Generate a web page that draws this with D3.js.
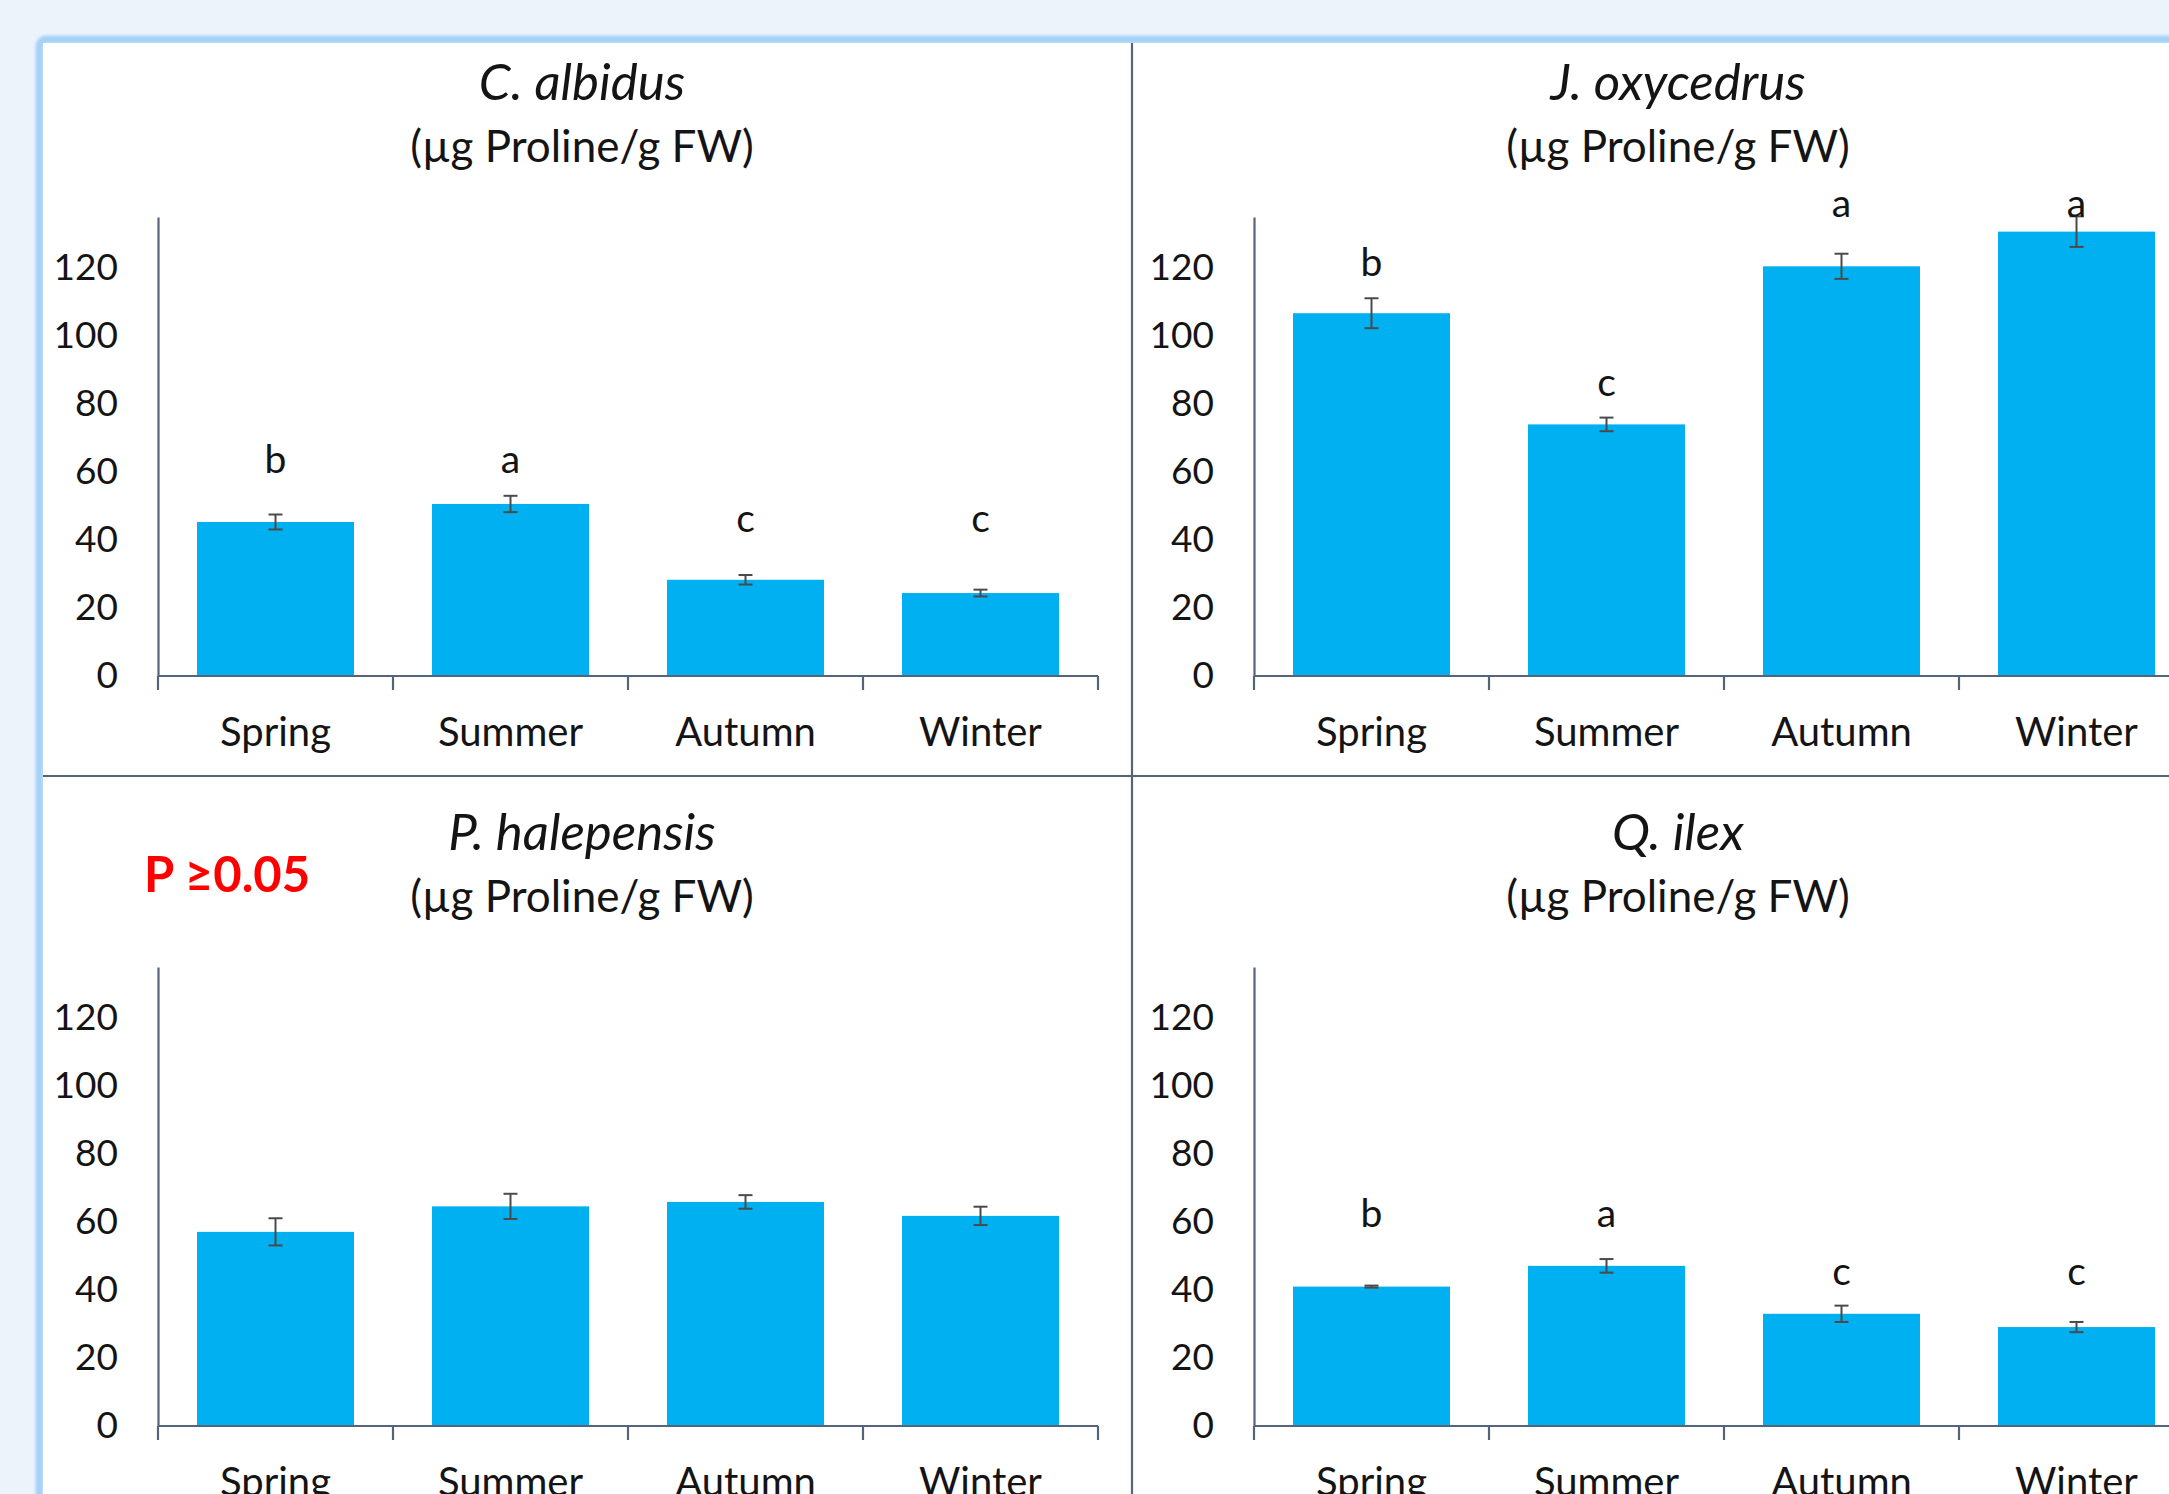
<!DOCTYPE html>
<html>
<head>
<meta charset="utf-8">
<script src="https://cdn.jsdelivr.net/npm/d3@7"></script>
<style>
  html, body { margin: 0; padding: 0; background: #ECF3FB; }
  svg { display: block; }
  text { font-family: Lato, "Open Sans", sans-serif; fill: #141414; }
</style>
</head>
<body>
<svg id="chart" width="2169" height="1494"></svg>
<script>
// Seasonal proline content per species (µg Proline / g FW)
const seasons = ["Spring", "Summer", "Autumn", "Winter"];
const yTicks = [0, 20, 40, 60, 80, 100, 120];
const unitLabel = "(µg Proline/g FW)";

const albidusMean = [45.3, 50.6, 28.3, 24.4];
const albidusErr = [2.2, 2.4, 1.4, 1.0];
const albidusLetters = ["b", "a", "c", "c"];
const albidusLetterAt = [59.8, 59.8, 42.4, 42.4];

const oxycedrusMean = [106.7, 74.0, 120.5, 130.7];
const oxycedrusErr = [4.4, 2.0, 3.7, 4.5];
const oxycedrusLetters = ["b", "c", "a", "a"];
const oxycedrusLetterAt = [117.6, 82.5, 135.0, 135.0];

const halepensisMean = [57.1, 64.6, 65.9, 61.8];
const halepensisErr = [4.0, 3.7, 2.0, 2.7];
const halepensisNote = "P ≥0.05";

const ilexMean = [41.0, 47.1, 33.0, 29.1];
const ilexErr = [0.3, 2.0, 2.4, 1.5];
const ilexLetters = ["b", "a", "c", "c"];
const ilexLetterAt = [58.5, 58.5, 41.5, 41.5];

const panels = [
  { name: "C. albidus", mean: albidusMean, err: albidusErr, letters: albidusLetters, letterAt: albidusLetterAt, ox: 158, base: 676 },
  { name: "J. oxycedrus", mean: oxycedrusMean, err: oxycedrusErr, letters: oxycedrusLetters, letterAt: oxycedrusLetterAt, ox: 1254, base: 676 },
  { name: "P. halepensis", mean: halepensisMean, err: halepensisErr, letters: null, letterAt: null, note: halepensisNote, ox: 158, base: 1426 },
  { name: "Q. ilex", mean: ilexMean, err: ilexErr, letters: ilexLetters, letterAt: ilexLetterAt, ox: 1254, base: 1426 }
];

const W = 2169, H = 1494;
const svg = d3.select("#chart");

// page background and framed sheet
svg.append("rect").attr("width", W).attr("height", H).attr("fill", "#ECF3FB");
const defs = svg.append("defs");
defs.append("filter").attr("id", "soft").attr("x", "-5%").attr("y", "-5%").attr("width", "110%").attr("height", "110%")
  .append("feGaussianBlur").attr("stdDeviation", 1.6);
svg.append("rect")
  .attr("x", 39.5).attr("y", 39.5).attr("width", 2300).attr("height", 1600)
  .attr("rx", 7).attr("fill", "none").attr("stroke", "#A4D1F7").attr("stroke-width", 8)
  .attr("filter", "url(#soft)");
svg.append("rect").attr("x", 43).attr("y", 43).attr("width", W).attr("height", H).attr("fill", "#FFFFFF");

// dividers between the four panels
svg.append("line").attr("x1", 1132).attr("x2", 1132).attr("y1", 43).attr("y2", H)
  .attr("stroke", "#56647A").attr("stroke-width", 2.2);
svg.append("line").attr("x1", 43).attr("x2", W).attr("y1", 776).attr("y2", 776)
  .attr("stroke", "#56647A").attr("stroke-width", 2.2);

const plotW = 940, plotH = 459;
const x = d3.scaleBand().domain(seasons).range([0, plotW]).paddingInner(0.332).paddingOuter(0.166);
const y = d3.scaleLinear().domain([0, 135]).range([plotH, 0]);

panels.forEach(p => {
  const g = svg.append("g").attr("transform", `translate(${p.ox},${p.base - plotH})`);

  // titles
  g.append("text").attr("x", 424).attr("y", plotH - 576.5).attr("text-anchor", "middle")
    .attr("font-size", 51).attr("font-style", "italic").text(p.name);
  g.append("text").attr("x", 424).attr("y", plotH - 514).attr("text-anchor", "middle")
    .attr("font-size", 44).text(unitLabel);

  if (p.note) {
    svg.append("text").attr("x", 144).attr("y", 892).attr("font-size", 49).attr("font-weight", 700)
      .style("fill", "#FF0000").text(p.note);
  }

  // bars
  g.selectAll("rect.bar").data(p.mean).join("rect").attr("class", "bar")
    .attr("x", (d, i) => x(seasons[i]))
    .attr("width", x.bandwidth())
    .attr("y", d => y(d))
    .attr("height", d => y(0) - y(d))
    .attr("fill", "#00B0F0");

  // error bars
  const eb = g.selectAll("g.err").data(p.mean).join("g").attr("class", "err")
    .attr("stroke", "#4A4A4A").attr("stroke-width", 2);
  const cx = i => x(seasons[i]) + x.bandwidth() / 2;
  eb.append("line").attr("x1", (d, i) => cx(i)).attr("x2", (d, i) => cx(i))
    .attr("y1", (d, i) => y(d - p.err[i])).attr("y2", (d, i) => y(d + p.err[i]));
  eb.append("line").attr("x1", (d, i) => cx(i) - 7).attr("x2", (d, i) => cx(i) + 7)
    .attr("y1", (d, i) => y(d + p.err[i])).attr("y2", (d, i) => y(d + p.err[i]));
  eb.append("line").attr("x1", (d, i) => cx(i) - 7).attr("x2", (d, i) => cx(i) + 7)
    .attr("y1", (d, i) => y(d - p.err[i])).attr("y2", (d, i) => y(d - p.err[i]));

  // significance letters
  if (p.letters) {
    g.selectAll("text.letter").data(p.letters).join("text").attr("class", "letter")
      .attr("x", (d, i) => cx(i)).attr("y", (d, i) => y(p.letterAt[i]))
      .attr("text-anchor", "middle").attr("font-size", 39).text(d => d);
  }

  // y axis
  const ya = g.append("g").call(d3.axisLeft(y).tickValues(yTicks).tickSize(0).tickSizeOuter(0).tickPadding(40));
  ya.select(".domain").attr("stroke", "#56647A").attr("stroke-width", 2.2);
  ya.selectAll("text").attr("font-size", 37).style("font-family", "Lato, sans-serif").style("fill", "#141414");

  // x axis: baseline, boundary ticks, season labels
  const xa = g.append("g").attr("transform", `translate(0,${plotH})`)
    .call(d3.axisBottom(x).tickSize(0).tickPadding(0));
  xa.select(".domain").remove();
  xa.selectAll("text").attr("dy", null).attr("y", 70).attr("font-size", 40)
    .style("font-family", "Lato, sans-serif").style("fill", "#141414");
  const bounds = seasons.map(s => x(s) - x.paddingInner() * x.step() / 2).concat([plotW]);
  xa.append("line").attr("x1", 0).attr("x2", plotW).attr("y1", 0).attr("y2", 0)
    .attr("stroke", "#56647A").attr("stroke-width", 2.2);
  xa.selectAll("line.bt").data(bounds).join("line").attr("class", "bt")
    .attr("x1", d => d).attr("x2", d => d).attr("y1", 0).attr("y2", 14)
    .attr("stroke", "#56647A").attr("stroke-width", 2.2);
});
</script>
</body>
</html>
